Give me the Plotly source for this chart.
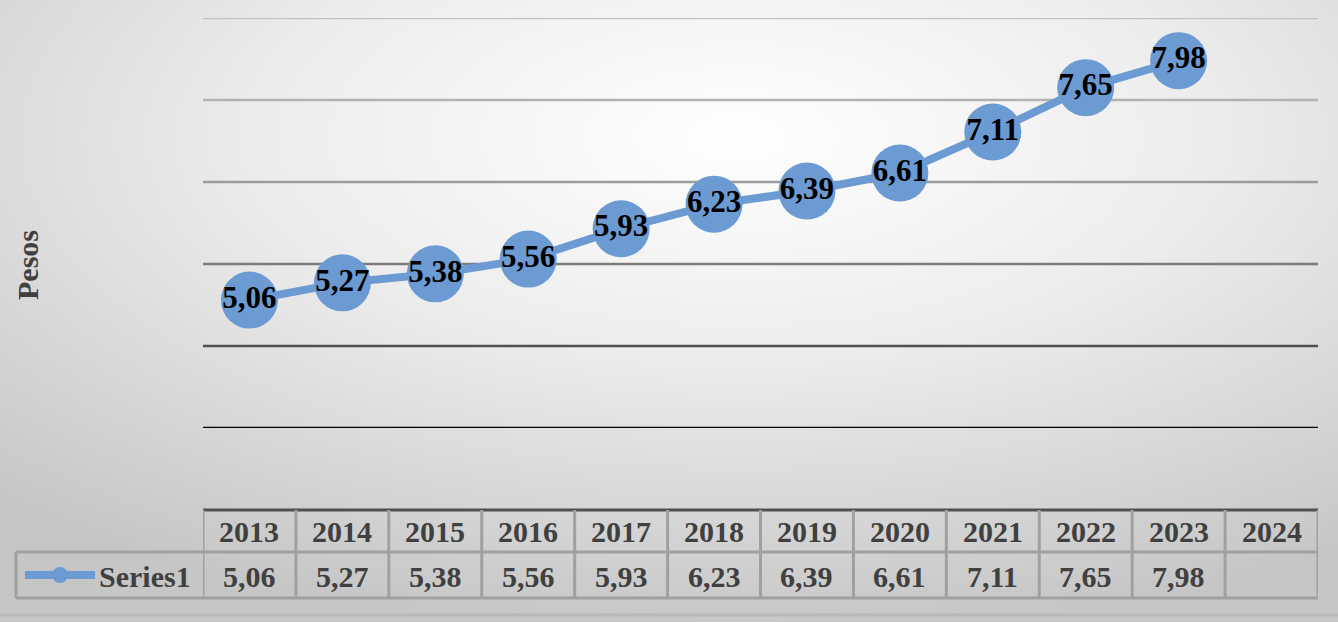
import base64
import plotly.graph_objects as go

years = ["2013", "2014", "2015", "2016", "2017", "2018", "2019", "2020", "2021", "2022", "2023", "2024"]
values = [5.06, 5.27, 5.38, 5.56, 5.93, 6.23, 6.39, 6.61, 7.11, 7.65, 7.98, None]
series_name = "Series1"
y_title = "Pesos"

W, H = 1338, 622
L, R, T, B = 203, 20, 18, 194
PW, PH = W - L - R, H - T - B

def py(p):
    return (H - B - p) / PH

def px(p):
    return (p - L) / PW

def fmt(v):
    return "" if v is None else f"{v:.2f}".replace(".", ",")

blue = "#6b9bd2"
serif = "Liberation Serif"
tcol = "#404040"

svg = (
    '<svg xmlns="http://www.w3.org/2000/svg" width="1338" height="622" preserveAspectRatio="none">'
    '<defs><radialGradient id="g" cx="0.55" cy="0.22" r="0.8">'
    '<stop offset="0" stop-color="#ffffff"/><stop offset="0.45" stop-color="#ececec"/>'
    '<stop offset="1" stop-color="#c6c6c6"/></radialGradient></defs>'
    '<rect width="1338" height="622" fill="url(#g)"/></svg>'
)
src = "data:image/svg+xml;base64," + base64.b64encode(svg.encode()).decode()

xs = list(range(len(years)))
pts_x = [i for i, v in zip(xs, values) if v is not None]
pts_y = [v for v in values if v is not None]

fig = go.Figure()
fig.add_trace(go.Scatter(
    x=pts_x, y=pts_y, mode="lines+markers+text",
    line=dict(color=blue, width=8),
    marker=dict(size=57, color=blue),
    text=[f"<b>{fmt(v)}</b>" for v in pts_y], textposition="middle center",
    textfont=dict(family=serif, size=31, color="#000000"),
    cliponaxis=False, hoverinfo="skip", showlegend=False,
))

shapes = []
grid_vals = [8.5, 7.5, 6.5, 5.5, 4.5, 3.5]
grid_cols = ["#c2c2c2", "#b2b2b2", "#9c9c9c", "#7c7c7c", "#505050", "#000000"]
for gv, gc in zip(grid_vals, grid_cols):
    shapes.append(dict(type="line", xref="x", yref="y", x0=-0.5, x1=11.5, y0=gv, y1=gv,
                       line=dict(color=gc, width=2.5), layer="below"))

cell = dict(color="#a0a0a0", width=3)
top_h, mid_h, bot_h = 510, 552, 598
shapes.append(dict(type="line", xref="x", yref="paper", x0=-0.5, x1=11.5, y0=py(top_h), y1=py(top_h),
                   line=dict(color="#505050", width=3)))
shapes.append(dict(type="line", xref="paper", yref="paper", x0=px(16), x1=1.0, y0=py(mid_h), y1=py(mid_h), line=cell))
shapes.append(dict(type="line", xref="paper", yref="paper", x0=px(16), x1=1.0, y0=py(bot_h), y1=py(bot_h), line=cell))
for i in range(len(years) + 1):
    shapes.append(dict(type="line", xref="x", yref="paper", x0=i - 0.5, x1=i - 0.5,
                       y0=py(top_h), y1=py(bot_h), line=cell))
shapes.append(dict(type="line", xref="paper", yref="paper", x0=px(16), x1=px(16),
                   y0=py(mid_h), y1=py(bot_h), line=cell))
shapes.append(dict(type="line", xref="paper", yref="paper", x0=px(25), x1=px(95),
                   y0=py(575), y1=py(575), line=dict(color=blue, width=8)))
shapes.append(dict(type="circle", xref="paper", yref="paper", x0=px(52), x1=px(68),
                   y0=py(567), y1=py(583), fillcolor=blue, line=dict(width=0)))
shapes.append(dict(type="line", xref="paper", yref="paper", x0=px(0), x1=px(W),
                   y0=py(615), y1=py(615), line=dict(color="#b8b8b8", width=3)))

ann = []
for i, (yr, v) in enumerate(zip(years, values)):
    ann.append(dict(x=i, y=py(531), xref="x", yref="paper", text=f"<b>{yr}</b>", showarrow=False,
                    xanchor="center", yanchor="middle",
                    font=dict(family=serif, size=30, color=tcol)))
    if v is not None:
        ann.append(dict(x=i, y=py(576), xref="x", yref="paper", text=f"<b>{fmt(v)}</b>", showarrow=False,
                        xanchor="center", yanchor="middle",
                        font=dict(family=serif, size=30, color=tcol)))
ann.append(dict(x=px(193), y=py(576), xref="paper", yref="paper", text=f"<b>{series_name}</b>",
                showarrow=False, xanchor="right", yanchor="middle",
                font=dict(family=serif, size=30, color=tcol)))
ann.append(dict(x=px(27), y=py(265), xref="paper", yref="paper", text=f"<b>{y_title}</b>",
                showarrow=False, textangle=-90, xanchor="center", yanchor="middle",
                font=dict(family=serif, size=30, color=tcol)))

fig.update_layout(
    width=W, height=H, margin=dict(l=L, r=R, t=T, b=B),
    paper_bgcolor="#d8d8d8", plot_bgcolor="rgba(0,0,0,0)",
    xaxis=dict(range=[-0.5, 11.5], showgrid=False, zeroline=False, showticklabels=False,
               showline=False, ticks="", fixedrange=True),
    yaxis=dict(range=[3.5, 8.5], showgrid=False, zeroline=False, showticklabels=False,
               showline=False, ticks="", fixedrange=True),
    shapes=shapes, annotations=ann,
    images=[dict(source=src, xref="paper", yref="paper", x=px(0), y=py(0),
                 sizex=W / PW, sizey=H / PH, sizing="stretch", layer="below",
                 xanchor="left", yanchor="top")],
    showlegend=False,
)
fig.write_html("out.html", config={"displayModeBar": False},
               post_script="document.body.style.margin='0';document.body.style.overflow='hidden';")
